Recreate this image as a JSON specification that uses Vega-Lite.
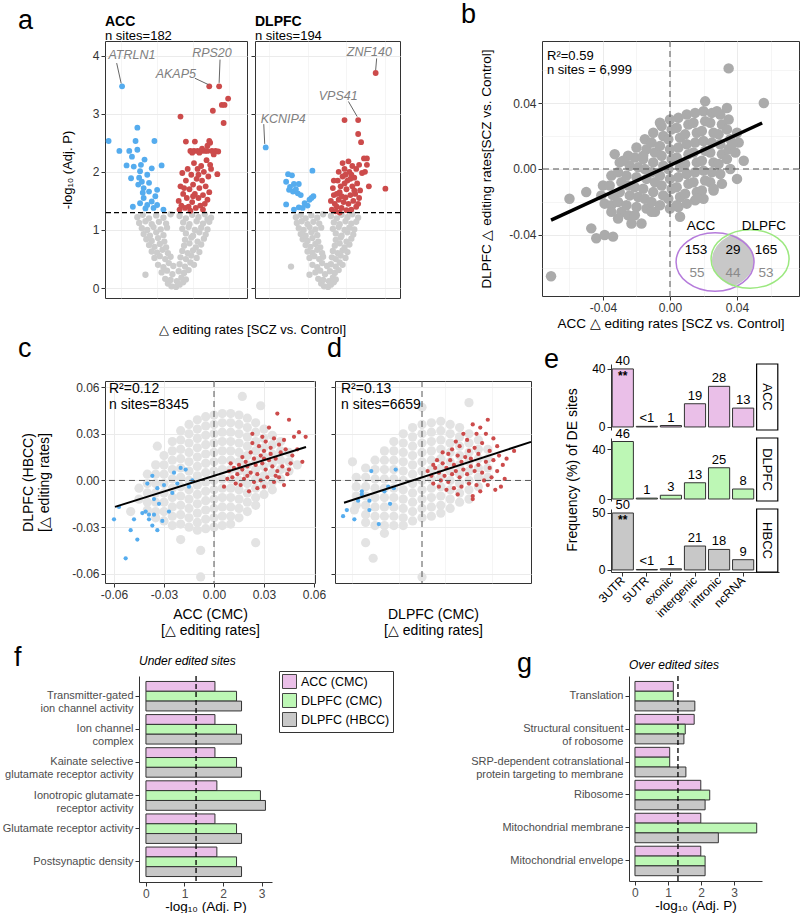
{
"$schema": "https://vega.github.io/schema/vega-lite/v6.json",
"padding": {"left": 2, "top": 0, "right": 0, "bottom": 0},
"config": {
  "font": "Liberation Sans",
  "view": {"stroke": "#333333", "strokeWidth": 1},
  "axis": {"labelFont": "Liberation Sans", "titleFont": "Liberation Sans", "labelFontSize": 12, "titleFontSize": 13, "titleFontWeight": "normal", "labelColor": "#333333", "titleColor": "#000000", "tickColor": "#333333", "domainColor": "#333333", "tickSize": 4, "gridColor": "#EBEBEB", "labelPadding": 2, "domain": false, "labelFlush": false, "labelOverlap": false},
  "title": {"font": "Liberation Sans", "fontWeight": "normal", "color": "#000000", "subtitleFont": "Liberation Sans"},
  "legend": {"labelFont": "Liberation Sans"}
},
"resolve": {"scale": {"fill": "independent"}, "legend": {"fill": "independent"}},
"spacing": 5,
"vconcat": [
 {"vconcat": [
  {"hconcat": [
   {"hconcat": [
    {"width": 142, "height": 257,
     "title": {"text": "ACC", "subtitle": "n sites=182", "anchor": "start", "frame": "group", "fontSize": 14, "fontWeight": "bold", "subtitleFontSize": 13, "subtitleColor": "#000000", "subtitlePadding": 1, "offset": -2},
     "layer": [
      {"data": {"name": "volA"}, "transform": [{"filter": "datum.c=='g'"}], "mark": {"type": "circle", "size": 40, "color": "#CCCCCC", "opacity": 1},
       "encoding": {
        "x": {"field": "x", "type": "quantitative", "scale": {"domain": [-0.078, 0.08], "nice": false, "zero": false}, "axis": {"values": [-0.06,-0.04,-0.02,0,0.02,0.04,0.06], "labelExpr": "abs(round(datum.value*100))%4==2 ? '' : replace(format(datum.value,'.2f'),'\u2212','-')", "tickColor": {"condition": {"test": "abs(round(datum.value*100))%4==2", "value": "transparent"}, "value": "#333333"}, "gridWidth": {"condition": {"test": "abs(round(datum.value*100))%4==2", "value": 0.5}, "value": 1}, "grid": true, "title": "△ editing rates [SCZ vs. Control]", "titleX": 147, "titlePadding": 8}},
        "y": {"field": "y", "type": "quantitative", "scale": {"domain": [-0.17, 4.25], "nice": false, "zero": false}, "axis": {"values": [0,0.5,1,1.5,2,2.5,3,3.5,4], "labelExpr": "datum.value%1!=0 ? '' : format(datum.value,'.0f')", "tickColor": {"condition": {"test": "datum.value%1!=0", "value": "transparent"}, "value": "#333333"}, "gridWidth": {"condition": {"test": "datum.value%1!=0", "value": 0.5}, "value": 1}, "grid": true, "title": "-log₁₀ (Adj. P)", "titlePadding": 18}}
       }},
      {"data": {"name": "volA"}, "transform": [{"filter": "datum.c=='b'"}], "mark": {"type": "circle", "size": 34, "opacity": 1, "color": "#55ACEE"},
       "encoding": {
        "x": {"field": "x", "type": "quantitative", "scale": {"domain": [-0.078, 0.08], "nice": false, "zero": false}},
        "y": {"field": "y", "type": "quantitative", "scale": {"domain": [-0.17, 4.25], "nice": false, "zero": false}}}},
      {"data": {"name": "volA"}, "transform": [{"filter": "datum.c=='r'"}], "mark": {"type": "circle", "size": 34, "opacity": 1, "color": "#CC4B4B"},
       "encoding": {
        "x": {"field": "x", "type": "quantitative", "scale": {"domain": [-0.078, 0.08], "nice": false, "zero": false}},
        "y": {"field": "y", "type": "quantitative", "scale": {"domain": [-0.17, 4.25], "nice": false, "zero": false}}}},
      {"data": {"values": [{}]}, "mark": {"type": "rule", "strokeDash": [5, 3], "strokeWidth": 1.2, "color": "#000000"},
       "encoding": {"y": {"datum": 1.3, "type": "quantitative", "scale": {"domain": [-0.17, 4.25], "nice": false, "zero": false}}}},
      {"data": {"name": "lblA"}, "mark": {"type": "rule", "color": "#666666", "strokeWidth": 1},
       "encoding": {
        "x": {"field": "x1", "type": "quantitative", "scale": {"domain": [-0.078, 0.08], "nice": false, "zero": false}},
        "y": {"field": "y1", "type": "quantitative", "scale": {"domain": [-0.17, 4.25], "nice": false, "zero": false}},
        "x2": {"field": "x2"}, "y2": {"field": "y2"}}},
      {"data": {"name": "lblA"}, "mark": {"type": "text", "fontStyle": "italic", "fontSize": 12.5, "color": "#808080"},
       "encoding": {
        "x": {"field": "tx", "type": "quantitative", "scale": {"domain": [-0.078, 0.08], "nice": false, "zero": false}},
        "y": {"field": "ty", "type": "quantitative", "scale": {"domain": [-0.17, 4.25], "nice": false, "zero": false}},
        "text": {"field": "t"}}}
     ]},
    {"width": 145, "height": 257,
     "title": {"text": "DLPFC", "subtitle": "n sites=194", "anchor": "start", "frame": "group", "fontSize": 14, "fontWeight": "bold", "subtitleFontSize": 13, "subtitleColor": "#000000", "subtitlePadding": 1, "offset": -2},
     "layer": [
      {"data": {"name": "volD"}, "transform": [{"filter": "datum.c=='g'"}], "mark": {"type": "circle", "size": 40, "color": "#CCCCCC", "opacity": 1},
       "encoding": {
        "x": {"field": "x", "type": "quantitative", "scale": {"domain": [-0.074, 0.075], "nice": false, "zero": false}, "axis": {"values": [-0.06,-0.04,-0.02,0,0.02,0.04,0.06], "labelExpr": "abs(round(datum.value*100))%4==2 ? '' : replace(format(datum.value,'.2f'),'\u2212','-')", "tickColor": {"condition": {"test": "abs(round(datum.value*100))%4==2", "value": "transparent"}, "value": "#333333"}, "gridWidth": {"condition": {"test": "abs(round(datum.value*100))%4==2", "value": 0.5}, "value": 1}, "grid": true, "title": null}},
        "y": {"field": "y", "type": "quantitative", "scale": {"domain": [-0.17, 4.25], "nice": false, "zero": false}, "axis": {"values": [0,0.5,1,1.5,2,2.5,3,3.5,4], "labels": false, "tickColor": {"condition": {"test": "datum.value%1!=0", "value": "transparent"}, "value": "#333333"}, "gridWidth": {"condition": {"test": "datum.value%1!=0", "value": 0.5}, "value": 1}, "grid": true, "title": null}}
       }},
      {"data": {"name": "volD"}, "transform": [{"filter": "datum.c=='b'"}], "mark": {"type": "circle", "size": 34, "opacity": 1, "color": "#55ACEE"},
       "encoding": {
        "x": {"field": "x", "type": "quantitative", "scale": {"domain": [-0.074, 0.075], "nice": false, "zero": false}},
        "y": {"field": "y", "type": "quantitative", "scale": {"domain": [-0.17, 4.25], "nice": false, "zero": false}}}},
      {"data": {"name": "volD"}, "transform": [{"filter": "datum.c=='r'"}], "mark": {"type": "circle", "size": 34, "opacity": 1, "color": "#CC4B4B"},
       "encoding": {
        "x": {"field": "x", "type": "quantitative", "scale": {"domain": [-0.074, 0.075], "nice": false, "zero": false}},
        "y": {"field": "y", "type": "quantitative", "scale": {"domain": [-0.17, 4.25], "nice": false, "zero": false}}}},
      {"data": {"values": [{}]}, "mark": {"type": "rule", "strokeDash": [5, 3], "strokeWidth": 1.2, "color": "#000000"},
       "encoding": {"y": {"datum": 1.3, "type": "quantitative", "scale": {"domain": [-0.17, 4.25], "nice": false, "zero": false}}}},
      {"data": {"name": "lblD"}, "mark": {"type": "rule", "color": "#666666", "strokeWidth": 1},
       "encoding": {
        "x": {"field": "x1", "type": "quantitative", "scale": {"domain": [-0.074, 0.075], "nice": false, "zero": false}},
        "y": {"field": "y1", "type": "quantitative", "scale": {"domain": [-0.17, 4.25], "nice": false, "zero": false}},
        "x2": {"field": "x2"}, "y2": {"field": "y2"}}},
      {"data": {"name": "lblD"}, "mark": {"type": "text", "fontStyle": "italic", "fontSize": 12.5, "color": "#808080"},
       "encoding": {
        "x": {"field": "tx", "type": "quantitative", "scale": {"domain": [-0.074, 0.075], "nice": false, "zero": false}},
        "y": {"field": "ty", "type": "quantitative", "scale": {"domain": [-0.17, 4.25], "nice": false, "zero": false}},
        "text": {"field": "t"}}}
     ]}
   ], "spacing": 8, "bounds": "flush",
   "title": {"text": "a", "fontSize": 27, "anchor": "start", "frame": "group", "dx": -87, "offset": -41, "baseline": "alphabetic"}},
   {"width": 257, "height": 255,
    "title": {"text": "b", "fontSize": 27, "anchor": "start", "frame": "group", "dx": -81, "offset": -9, "baseline": "alphabetic"},
    "layer": [
     {"data": {"name": "bg"}, "mark": {"type": "circle", "size": 110, "color": "#ABABAB", "opacity": 1},
      "encoding": {
       "x": {"field": "x", "type": "quantitative", "scale": {"domain": [-0.0764, 0.077], "nice": false, "zero": false}, "axis": {"values": [-0.06,-0.04,-0.02,0,0.02,0.04,0.06], "labelExpr": "abs(round(datum.value*100))%4==2 ? '' : replace(format(datum.value,'.2f'),'\u2212','-')", "tickColor": {"condition": {"test": "abs(round(datum.value*100))%4==2", "value": "transparent"}, "value": "#333333"}, "gridWidth": {"condition": {"test": "abs(round(datum.value*100))%4==2", "value": 0.5}, "value": 1}, "grid": true, "title": "ACC △ editing rates [SCZ vs. Control]", "titleFontSize": 13.5, "titlePadding": 3}},
       "y": {"field": "y", "type": "quantitative", "scale": {"domain": [-0.077, 0.0776], "nice": false, "zero": false}, "axis": {"values": [-0.06,-0.04,-0.02,0,0.02,0.04,0.06], "labelExpr": "abs(round(datum.value*100))%4==2 ? '' : replace(format(datum.value,'.2f'),'\u2212','-')", "tickColor": {"condition": {"test": "abs(round(datum.value*100))%4==2", "value": "transparent"}, "value": "#333333"}, "gridWidth": {"condition": {"test": "abs(round(datum.value*100))%4==2", "value": 0.5}, "value": 1}, "grid": true, "title": "DLPFC △ editing rates[SCZ vs. Control]", "titleFontSize": 13.5, "titlePadding": 15}}
      }},
     {"data": {"values": [{}]}, "mark": {"type": "rule", "strokeDash": [6, 4], "strokeWidth": 1, "color": "#555555"},
      "encoding": {"x": {"datum": 0, "type": "quantitative", "scale": {"domain": [-0.0764, 0.077], "nice": false, "zero": false}}}},
     {"data": {"values": [{}]}, "mark": {"type": "rule", "strokeDash": [6, 4], "strokeWidth": 1, "color": "#555555"},
      "encoding": {"y": {"datum": 0, "type": "quantitative", "scale": {"domain": [-0.077, 0.0776], "nice": false, "zero": false}}}},
     {"data": {"name": "bl"}, "mark": {"type": "line", "color": "#000000", "strokeWidth": 3.5},
      "encoding": {
       "x": {"field": "x", "type": "quantitative", "scale": {"domain": [-0.0764, 0.077], "nice": false, "zero": false}},
       "y": {"field": "y", "type": "quantitative", "scale": {"domain": [-0.077, 0.0776], "nice": false, "zero": false}}}},
     {"data": {"name": "bann"}, "mark": {"type": "text", "align": "left", "baseline": "middle", "fontSize": 13},
      "encoding": {
       "x": {"field": "x", "type": "quantitative", "scale": {"domain": [-0.0764, 0.077], "nice": false, "zero": false}},
       "y": {"field": "y", "type": "quantitative", "scale": {"domain": [-0.077, 0.0776], "nice": false, "zero": false}},
       "text": {"field": "t"}}},
     {"data": {"name": "lens"}, "mark": {"type": "point", "shape": "M0,-1A1.5,1.115 0 0,1 0,1A1.5,1.135 0 0,1 0,-1Z", "size": 2704, "filled": true, "fill": "#C8C8C8", "strokeWidth": 0, "opacity": 1},
      "encoding": {
       "x": {"field": "x", "type": "quantitative", "scale": {"domain": [-0.0764, 0.077], "nice": false, "zero": false}},
       "y": {"field": "y", "type": "quantitative", "scale": {"domain": [-0.077, 0.0776], "nice": false, "zero": false}}}},
     {"data": {"name": "venn"}, "transform": [{"filter": "datum.s=='ACC'"}], "mark": {"type": "point", "shape": "M-1,0A1,0.75 0 1,0 1,0A1,0.75 0 1,0 -1,0Z", "size": 6084, "filled": false, "strokeWidth": 1.5, "opacity": 1, "stroke": "#B57BDB"},
      "encoding": {
       "x": {"field": "x", "type": "quantitative", "scale": {"domain": [-0.0764, 0.077], "nice": false, "zero": false}},
       "y": {"field": "y", "type": "quantitative", "scale": {"domain": [-0.077, 0.0776], "nice": false, "zero": false}}}},
     {"data": {"name": "venn"}, "transform": [{"filter": "datum.s=='DLPFC'"}], "mark": {"type": "point", "shape": "M-1,0A1,0.75 0 1,0 1,0A1,0.75 0 1,0 -1,0Z", "size": 6084, "filled": false, "strokeWidth": 1.5, "opacity": 1, "stroke": "#9BE87F"},
      "encoding": {
       "x": {"field": "x", "type": "quantitative", "scale": {"domain": [-0.0764, 0.077], "nice": false, "zero": false}},
       "y": {"field": "y", "type": "quantitative", "scale": {"domain": [-0.077, 0.0776], "nice": false, "zero": false}}}},
     {"data": {"name": "vtxt"}, "transform": [{"filter": "datum.k!='m'"}], "mark": {"type": "text", "fontSize": 13.5, "baseline": "middle", "color": "#000000"},
      "encoding": {
       "x": {"field": "x", "type": "quantitative", "scale": {"domain": [-0.0764, 0.077], "nice": false, "zero": false}},
       "y": {"field": "y", "type": "quantitative", "scale": {"domain": [-0.077, 0.0776], "nice": false, "zero": false}},
       "text": {"field": "t"}}},
     {"data": {"name": "vtxt"}, "transform": [{"filter": "datum.k=='m'"}], "mark": {"type": "text", "fontSize": 13.5, "baseline": "middle", "color": "#8A8A8A"},
      "encoding": {
       "x": {"field": "x", "type": "quantitative", "scale": {"domain": [-0.0764, 0.077], "nice": false, "zero": false}},
       "y": {"field": "y", "type": "quantitative", "scale": {"domain": [-0.077, 0.0776], "nice": false, "zero": false}},
       "text": {"field": "t"}}}
    ]}
  ], "spacing": 58},
  {"hconcat": [
   {"vconcat": [
    {"width": 1, "height": 1, "view": {"stroke": null}, "data": {"values": [{}]}, "mark": {"type": "point", "opacity": 0, "size": 0}},
    {"hconcat": [
    {"width": 210, "height": 202,
     "title": {"text": "c", "fontSize": 27, "anchor": "start", "frame": "group", "dx": -87, "offset": -3, "baseline": "alphabetic"},
     "layer": [
      {"data": {"name": "cg"}, "mark": {"type": "circle", "size": 85, "color": "#E3E3E3", "opacity": 1},
       "encoding": {
        "x": {"field": "x", "type": "quantitative", "scale": {"domain": [-0.0654, 0.0606], "nice": false, "zero": false}, "axis": {"values": [-0.06,-0.045,-0.03,-0.015,0,0.015,0.03,0.045,0.06], "labelExpr": "abs(round(datum.value*1000))%30==15 ? '' : replace(format(datum.value,'.2f'),'\u2212','-')", "tickColor": {"condition": {"test": "abs(round(datum.value*1000))%30==15", "value": "transparent"}, "value": "#333333"}, "gridWidth": {"condition": {"test": "abs(round(datum.value*1000))%30==15", "value": 0.5}, "value": 1}, "grid": true, "title": ["ACC (CMC)", "[△ editing rates]"], "titleFontSize": 14, "titlePadding": 7}},
        "y": {"field": "y", "type": "quantitative", "scale": {"domain": [-0.0659, 0.0639], "nice": false, "zero": false}, "axis": {"values": [-0.06,-0.045,-0.03,-0.015,0,0.015,0.03,0.045,0.06], "labelExpr": "abs(round(datum.value*1000))%30==15 ? '' : replace(format(datum.value,'.2f'),'\u2212','-')", "tickColor": {"condition": {"test": "abs(round(datum.value*1000))%30==15", "value": "transparent"}, "value": "#333333"}, "gridWidth": {"condition": {"test": "abs(round(datum.value*1000))%30==15", "value": 0.5}, "value": 1}, "grid": true, "title": ["DLPFC (HBCC)", "[△ editing rates]"], "titleFontSize": 14, "titlePadding": 20}}
       }},
      {"data": {"name": "cp"}, "transform": [{"filter": "datum.c=='b'"}], "mark": {"type": "circle", "size": 18, "opacity": 1, "color": "#55ACEE"},
       "encoding": {
        "x": {"field": "x", "type": "quantitative", "scale": {"domain": [-0.0654, 0.0606], "nice": false, "zero": false}},
        "y": {"field": "y", "type": "quantitative", "scale": {"domain": [-0.0659, 0.0639], "nice": false, "zero": false}}}},
      {"data": {"name": "cp"}, "transform": [{"filter": "datum.c=='r'"}], "mark": {"type": "circle", "size": 18, "opacity": 1, "color": "#CC4B4B"},
       "encoding": {
        "x": {"field": "x", "type": "quantitative", "scale": {"domain": [-0.0654, 0.0606], "nice": false, "zero": false}},
        "y": {"field": "y", "type": "quantitative", "scale": {"domain": [-0.0659, 0.0639], "nice": false, "zero": false}}}},
      {"data": {"values": [{}]}, "mark": {"type": "rule", "strokeDash": [6, 4], "strokeWidth": 1, "color": "#555555"},
       "encoding": {"x": {"datum": 0, "type": "quantitative", "scale": {"domain": [-0.0654, 0.0606], "nice": false, "zero": false}}}},
      {"data": {"values": [{}]}, "mark": {"type": "rule", "strokeDash": [6, 4], "strokeWidth": 1, "color": "#555555"},
       "encoding": {"y": {"datum": 0, "type": "quantitative", "scale": {"domain": [-0.0659, 0.0639], "nice": false, "zero": false}}}},
      {"data": {"name": "cl"}, "mark": {"type": "line", "color": "#000000", "strokeWidth": 2},
       "encoding": {
        "x": {"field": "x", "type": "quantitative", "scale": {"domain": [-0.0654, 0.0606], "nice": false, "zero": false}},
        "y": {"field": "y", "type": "quantitative", "scale": {"domain": [-0.0659, 0.0639], "nice": false, "zero": false}}}},
      {"data": {"name": "cann"}, "mark": {"type": "text", "align": "left", "baseline": "middle", "fontSize": 14},
       "encoding": {
        "x": {"field": "x", "type": "quantitative", "scale": {"domain": [-0.0654, 0.0606], "nice": false, "zero": false}},
        "y": {"field": "y", "type": "quantitative", "scale": {"domain": [-0.0659, 0.0639], "nice": false, "zero": false}},
        "text": {"field": "t"}}}
     ]},
    {"width": 196, "height": 202,
     "title": {"text": "d", "fontSize": 27, "anchor": "start", "frame": "group", "dx": -8, "offset": -3, "baseline": "alphabetic"},
     "layer": [
      {"data": {"name": "dg"}, "mark": {"type": "circle", "size": 85, "color": "#E3E3E3", "opacity": 1},
       "encoding": {
        "x": {"field": "x", "type": "quantitative", "scale": {"domain": [-0.0463, 0.058], "nice": false, "zero": false}, "axis": {"values": [-0.0375,-0.025,-0.0125,0,0.0125,0.025,0.0375,0.05], "labelExpr": "abs(round(datum.value*10000))%250==125 ? '' : (abs(datum.value-0.05)<0.0001 ? '0.05' : replace(format(datum.value,'.3f'),'\u2212','-'))", "tickColor": {"condition": {"test": "abs(round(datum.value*10000))%250==125", "value": "transparent"}, "value": "#333333"}, "gridWidth": {"condition": {"test": "abs(round(datum.value*10000))%250==125", "value": 0.5}, "value": 1}, "grid": true, "title": ["DLPFC (CMC)", "[△ editing rates]"], "titleFontSize": 14, "titlePadding": 7}},
        "y": {"field": "y", "type": "quantitative", "scale": {"domain": [-0.0659, 0.0639], "nice": false, "zero": false}, "axis": {"values": [-0.06,-0.045,-0.03,-0.015,0,0.015,0.03,0.045,0.06], "labels": false, "tickColor": {"condition": {"test": "abs(round(datum.value*1000))%30==15", "value": "transparent"}, "value": "#333333"}, "gridWidth": {"condition": {"test": "abs(round(datum.value*1000))%30==15", "value": 0.5}, "value": 1}, "grid": true, "title": null}}
       }},
      {"data": {"name": "dp"}, "transform": [{"filter": "datum.c=='b'"}], "mark": {"type": "circle", "size": 18, "opacity": 1, "color": "#55ACEE"},
       "encoding": {
        "x": {"field": "x", "type": "quantitative", "scale": {"domain": [-0.0463, 0.058], "nice": false, "zero": false}},
        "y": {"field": "y", "type": "quantitative", "scale": {"domain": [-0.0659, 0.0639], "nice": false, "zero": false}}}},
      {"data": {"name": "dp"}, "transform": [{"filter": "datum.c=='r'"}], "mark": {"type": "circle", "size": 18, "opacity": 1, "color": "#CC4B4B"},
       "encoding": {
        "x": {"field": "x", "type": "quantitative", "scale": {"domain": [-0.0463, 0.058], "nice": false, "zero": false}},
        "y": {"field": "y", "type": "quantitative", "scale": {"domain": [-0.0659, 0.0639], "nice": false, "zero": false}}}},
      {"data": {"values": [{}]}, "mark": {"type": "rule", "strokeDash": [6, 4], "strokeWidth": 1, "color": "#555555"},
       "encoding": {"x": {"datum": 0, "type": "quantitative", "scale": {"domain": [-0.0463, 0.058], "nice": false, "zero": false}}}},
      {"data": {"values": [{}]}, "mark": {"type": "rule", "strokeDash": [6, 4], "strokeWidth": 1, "color": "#555555"},
       "encoding": {"y": {"datum": 0, "type": "quantitative", "scale": {"domain": [-0.0659, 0.0639], "nice": false, "zero": false}}}},
      {"data": {"name": "dl"}, "mark": {"type": "line", "color": "#000000", "strokeWidth": 2},
       "encoding": {
        "x": {"field": "x", "type": "quantitative", "scale": {"domain": [-0.0463, 0.058], "nice": false, "zero": false}},
        "y": {"field": "y", "type": "quantitative", "scale": {"domain": [-0.0659, 0.0639], "nice": false, "zero": false}}}},
      {"data": {"name": "dann"}, "mark": {"type": "text", "align": "left", "baseline": "middle", "fontSize": 14},
       "encoding": {
        "x": {"field": "x", "type": "quantitative", "scale": {"domain": [-0.0463, 0.058], "nice": false, "zero": false}},
        "y": {"field": "y", "type": "quantitative", "scale": {"domain": [-0.0659, 0.0639], "nice": false, "zero": false}},
        "text": {"field": "t"}}}
     ]}
    ], "spacing": -1}
   ], "spacing": -31},
   {"vconcat": [
    {"width": 168, "height": 66, "view": {"stroke": null},
     "layer": [
      {"data": {"name": "efreq"}, "transform": [{"filter": "datum.f=='ACC'"}], "mark": {"type": "bar", "fill": "#EABFE8", "stroke": "#333333", "strokeWidth": 1},
       "encoding": {
        "x": {"field": "cat", "type": "nominal", "sort": null, "scale": {"domain": ["3UTR","5UTR","exonic","intergenic","intronic","ncRNA","strip"], "paddingInner": 0.12, "paddingOuter": 0.05}, "axis": null},
        "y": {"field": "v", "type": "quantitative", "scale": {"domain": [-2.1, 43.4], "nice": false, "zero": false}, "axis": {"values": [0,10,20,30,40], "title": null, "domain": true, "grid": false, "labelColor": "#000000"}},
        "y2": {"datum": 0}}},
      {"data": {"name": "efreq"}, "transform": [{"filter": "datum.f=='ACC'"}], "mark": {"type": "text", "baseline": "bottom", "dy": -1, "fontSize": 13},
       "encoding": {
        "x": {"field": "cat", "type": "nominal", "sort": null, "scale": {"domain": ["3UTR","5UTR","exonic","intergenic","intronic","ncRNA","strip"], "paddingInner": 0.12, "paddingOuter": 0.05}, "axis": null},
        "y": {"field": "v", "type": "quantitative", "scale": {"domain": [-2.1, 43.4], "nice": false, "zero": false}},
        "text": {"field": "lab"}}},
      {"data": {"name": "efreq"}, "transform": [{"filter": "datum.f=='ACC' && datum.star"}], "mark": {"type": "text", "baseline": "top", "dy": 2, "fontSize": 12, "fontWeight": "bold"},
       "encoding": {
        "x": {"field": "cat", "type": "nominal", "sort": null, "scale": {"domain": ["3UTR","5UTR","exonic","intergenic","intronic","ncRNA","strip"], "paddingInner": 0.12, "paddingOuter": 0.05}, "axis": null},
        "y": {"field": "v", "type": "quantitative", "scale": {"domain": [-2.1, 43.4], "nice": false, "zero": false}},
        "text": {"value": "**"}}},
      {"data": {"values": [{"cat": "strip", "lab": "ACC"}]}, "mark": {"type": "rect", "fill": "#FFFFFF", "stroke": "#000000", "strokeWidth": 1.2},
       "encoding": {
        "x": {"field": "cat", "type": "nominal", "sort": null, "scale": {"domain": ["3UTR","5UTR","exonic","intergenic","intronic","ncRNA","strip"], "paddingInner": 0.12, "paddingOuter": 0.05}, "axis": null},
        "y": {"datum": 43.4, "type": "quantitative", "scale": {"domain": [-2.1, 43.4], "nice": false, "zero": false}},
        "y2": {"datum": -2.1}}},
      {"data": {"values": [{"cat": "strip", "lab": "ACC"}]}, "mark": {"type": "text", "angle": 90, "fontSize": 13, "baseline": "middle"},
       "encoding": {
        "x": {"field": "cat", "type": "nominal", "sort": null, "scale": {"domain": ["3UTR","5UTR","exonic","intergenic","intronic","ncRNA","strip"], "paddingInner": 0.12, "paddingOuter": 0.05}, "axis": null},
        "y": {"datum": 20.65, "type": "quantitative", "scale": {"domain": [-2.1, 43.4], "nice": false, "zero": false}},
        "text": {"field": "lab"}}}
     ]},
    {"width": 168, "height": 63, "view": {"stroke": null},
     "layer": [
      {"data": {"name": "efreq"}, "transform": [{"filter": "datum.f=='DLPFC'"}], "mark": {"type": "bar", "fill": "#BDF7B5", "stroke": "#333333", "strokeWidth": 1},
       "encoding": {
        "x": {"field": "cat", "type": "nominal", "sort": null, "scale": {"domain": ["3UTR","5UTR","exonic","intergenic","intronic","ncRNA","strip"], "paddingInner": 0.12, "paddingOuter": 0.05}, "axis": null},
        "y": {"field": "v", "type": "quantitative", "scale": {"domain": [-1.6, 48.8], "nice": false, "zero": false}, "axis": {"values": [0,10,20,30,40], "title": "Frequency (%) of DE sites", "titleFontSize": 14, "titlePadding": 12, "domain": true, "grid": false, "labelColor": "#000000"}},
        "y2": {"datum": 0}}},
      {"data": {"name": "efreq"}, "transform": [{"filter": "datum.f=='DLPFC'"}], "mark": {"type": "text", "baseline": "bottom", "dy": -1, "fontSize": 13},
       "encoding": {
        "x": {"field": "cat", "type": "nominal", "sort": null, "scale": {"domain": ["3UTR","5UTR","exonic","intergenic","intronic","ncRNA","strip"], "paddingInner": 0.12, "paddingOuter": 0.05}, "axis": null},
        "y": {"field": "v", "type": "quantitative", "scale": {"domain": [-1.6, 48.8], "nice": false, "zero": false}},
        "text": {"field": "lab"}}},
      {"data": {"values": [{"cat": "strip", "lab": "DLPFC"}]}, "mark": {"type": "rect", "fill": "#FFFFFF", "stroke": "#000000", "strokeWidth": 1.2},
       "encoding": {
        "x": {"field": "cat", "type": "nominal", "sort": null, "scale": {"domain": ["3UTR","5UTR","exonic","intergenic","intronic","ncRNA","strip"], "paddingInner": 0.12, "paddingOuter": 0.05}, "axis": null},
        "y": {"datum": 48.8, "type": "quantitative", "scale": {"domain": [-1.6, 48.8], "nice": false, "zero": false}},
        "y2": {"datum": -1.6}}},
      {"data": {"values": [{"cat": "strip", "lab": "DLPFC"}]}, "mark": {"type": "text", "angle": 90, "fontSize": 13, "baseline": "middle"},
       "encoding": {
        "x": {"field": "cat", "type": "nominal", "sort": null, "scale": {"domain": ["3UTR","5UTR","exonic","intergenic","intronic","ncRNA","strip"], "paddingInner": 0.12, "paddingOuter": 0.05}, "axis": null},
        "y": {"datum": 23.6, "type": "quantitative", "scale": {"domain": [-1.6, 48.8], "nice": false, "zero": false}},
        "text": {"field": "lab"}}}
     ]},
    {"width": 168, "height": 63, "view": {"stroke": null},
     "layer": [
      {"data": {"name": "efreq"}, "transform": [{"filter": "datum.f=='HBCC'"}], "mark": {"type": "bar", "fill": "#C8C8C8", "stroke": "#333333", "strokeWidth": 1},
       "encoding": {
        "x": {"field": "cat", "type": "nominal", "sort": null, "scale": {"domain": ["3UTR","5UTR","exonic","intergenic","intronic","ncRNA","strip"], "paddingInner": 0.12, "paddingOuter": 0.05}, "axis": {"title": null, "labelAngle": -45, "labelAlign": "right", "labelBaseline": "middle", "domain": true, "labelColor": "#000000", "labelExpr": "datum.value=='strip' ? '' : datum.value", "tickColor": {"condition": {"test": "datum.value=='strip'", "value": "transparent"}, "value": "#333333"}}},
        "y": {"field": "v", "type": "quantitative", "scale": {"domain": [-1.8, 53.5], "nice": false, "zero": false}, "axis": {"values": [0,10,20,30,40,50], "title": null, "domain": true, "grid": false, "labelColor": "#000000"}},
        "y2": {"datum": 0}}},
      {"data": {"name": "efreq"}, "transform": [{"filter": "datum.f=='HBCC'"}], "mark": {"type": "text", "baseline": "bottom", "dy": -1, "fontSize": 13},
       "encoding": {
        "x": {"field": "cat", "type": "nominal", "sort": null, "scale": {"domain": ["3UTR","5UTR","exonic","intergenic","intronic","ncRNA","strip"], "paddingInner": 0.12, "paddingOuter": 0.05}},
        "y": {"field": "v", "type": "quantitative", "scale": {"domain": [-1.8, 53.5], "nice": false, "zero": false}},
        "text": {"field": "lab"}}},
      {"data": {"name": "efreq"}, "transform": [{"filter": "datum.f=='HBCC' && datum.star"}], "mark": {"type": "text", "baseline": "top", "dy": 2, "fontSize": 12, "fontWeight": "bold"},
       "encoding": {
        "x": {"field": "cat", "type": "nominal", "sort": null, "scale": {"domain": ["3UTR","5UTR","exonic","intergenic","intronic","ncRNA","strip"], "paddingInner": 0.12, "paddingOuter": 0.05}},
        "y": {"field": "v", "type": "quantitative", "scale": {"domain": [-1.8, 53.5], "nice": false, "zero": false}},
        "text": {"value": "**"}}},
      {"data": {"values": [{"cat": "strip", "lab": "HBCC"}]}, "mark": {"type": "rect", "fill": "#FFFFFF", "stroke": "#000000", "strokeWidth": 1.2},
       "encoding": {
        "x": {"field": "cat", "type": "nominal", "sort": null, "scale": {"domain": ["3UTR","5UTR","exonic","intergenic","intronic","ncRNA","strip"], "paddingInner": 0.12, "paddingOuter": 0.05}},
        "y": {"datum": 53.5, "type": "quantitative", "scale": {"domain": [-1.8, 53.5], "nice": false, "zero": false}},
        "y2": {"datum": -1.8}}},
      {"data": {"values": [{"cat": "strip", "lab": "HBCC"}]}, "mark": {"type": "text", "angle": 90, "fontSize": 13, "baseline": "middle"},
       "encoding": {
        "x": {"field": "cat", "type": "nominal", "sort": null, "scale": {"domain": ["3UTR","5UTR","exonic","intergenic","intronic","ncRNA","strip"], "paddingInner": 0.12, "paddingOuter": 0.05}},
        "y": {"datum": 25.85, "type": "quantitative", "scale": {"domain": [-1.8, 53.5], "nice": false, "zero": false}},
        "text": {"field": "lab"}}}
     ]}
   ], "spacing": 8, "bounds": "flush",
   "title": {"text": "e", "fontSize": 27, "anchor": "start", "frame": "group", "dx": -67, "offset": -40, "baseline": "alphabetic"}}
  ], "spacing": 8}
 ], "spacing": -3},
 {"hconcat": [
  {"width": 1, "height": 1, "view": {"stroke": null}, "data": {"values": [{}]}, "mark": {"type": "point", "opacity": 0, "size": 0}},
  {"hconcat": [
  {"vconcat": [
   {"width": 133, "height": 206, "view": {"stroke": null},
    "title": {"text": "Under edited sites", "fontStyle": "italic", "fontSize": 12, "anchor": "start", "frame": "group", "offset": 3},
    "layer": [
     {"data": {"name": "fbars"}, "mark": {"type": "bar", "stroke": "#333333", "strokeWidth": 1},
      "encoding": {
       "y": {"field": "term", "type": "nominal", "sort": null, "scale": {"paddingInner": 0.11, "paddingOuter": 0.165}, "axis": {"title": null, "domain": true, "labelExpr": "split(datum.value, '|')", "labelFontSize": 11, "labelColor": "#4D4D4D", "labelLimit": 300, "labelLineHeight": 13}},
       "yOffset": {"field": "set", "type": "nominal", "sort": ["ACC (CMC)", "DLPFC (CMC)", "DLPFC (HBCC)"], "scale": {"paddingInner": 0, "paddingOuter": 0}},
       "x": {"field": "v", "type": "quantitative", "scale": {"domain": [-0.18, 3.27], "nice": false, "zero": false}, "axis": {"values": [0,1,2,3], "title": "-log₁₀ (Adj. P)", "titleFontSize": 13.5, "titlePadding": 0, "domain": true, "grid": false, "labelColor": "#4D4D4D"}},
       "x2": {"datum": 0},
       "fill": {"field": "set", "type": "nominal", "scale": {"domain": ["ACC (CMC)", "DLPFC (CMC)", "DLPFC (HBCC)"], "range": ["#EABFE8", "#BDF7B5", "#C8C8C8"]}, "legend": {"title": null, "orient": "none", "legendX": 140, "legendY": -5, "symbolType": "square", "symbolSize": 196, "symbolStrokeColor": "#444444", "symbolStrokeWidth": 1, "labelFontSize": 12.5, "rowPadding": 0, "strokeColor": "#333333", "padding": 3, "labelOffset": 4}}}},
     {"data": {"values": [{}]}, "mark": {"type": "rule", "strokeDash": [5, 3], "strokeWidth": 1.3, "color": "#000000"},
      "encoding": {"x": {"datum": 1.3, "type": "quantitative", "scale": {"domain": [-0.18, 3.27], "nice": false, "zero": false}}}}
    ]}
  ], "resolve": {"scale": {"fill": "independent"}, "legend": {"fill": "independent"}},
  "title": {"text": "f", "fontSize": 27, "anchor": "start", "frame": "group", "dx": -125, "offset": -38, "baseline": "alphabetic"}},
  {"vconcat": [
   {"width": 133, "height": 205, "view": {"stroke": null},
    "title": {"text": "Over edited sites", "fontStyle": "italic", "fontSize": 12, "anchor": "start", "frame": "group", "offset": 3},
    "layer": [
     {"data": {"name": "gbars"}, "mark": {"type": "bar", "stroke": "#333333", "strokeWidth": 1},
      "encoding": {
       "y": {"field": "term", "type": "nominal", "sort": null, "scale": {"paddingInner": 0.11, "paddingOuter": 0.165}, "axis": {"title": null, "domain": true, "labelExpr": "split(datum.value, '|')", "labelFontSize": 11, "labelColor": "#4D4D4D", "labelLimit": 300, "labelLineHeight": 13}},
       "yOffset": {"field": "set", "type": "nominal", "sort": ["ACC (CMC)", "DLPFC (CMC)", "DLPFC (HBCC)"], "scale": {"paddingInner": 0, "paddingOuter": 0}},
       "x": {"field": "v", "type": "quantitative", "scale": {"domain": [-0.18, 3.84], "nice": false, "zero": false}, "axis": {"values": [0,1,2,3], "title": "-log₁₀ (Adj. P)", "titleFontSize": 13.5, "titlePadding": 0, "domain": true, "grid": false, "labelColor": "#4D4D4D"}},
       "x2": {"datum": 0},
       "fill": {"field": "set", "type": "nominal", "scale": {"domain": ["ACC (CMC)", "DLPFC (CMC)", "DLPFC (HBCC)"], "range": ["#EABFE8", "#BDF7B5", "#C8C8C8"]}, "legend": null}}},
     {"data": {"values": [{}]}, "mark": {"type": "rule", "strokeDash": [5, 3], "strokeWidth": 1.3, "color": "#000000"},
      "encoding": {"x": {"datum": 1.3, "type": "quantitative", "scale": {"domain": [-0.18, 3.84], "nice": false, "zero": false}}}}
    ]}
  ], "resolve": {"scale": {"fill": "independent"}, "legend": {"fill": "independent"}},
  "title": {"text": "g", "fontSize": 27, "anchor": "start", "frame": "group", "dx": -112, "offset": -40, "baseline": "alphabetic"}}
  ], "spacing": 76, "resolve": {"scale": {"fill": "independent"}, "legend": {"fill": "independent"}}}
 ], "spacing": -104, "resolve": {"scale": {"fill": "independent"}, "legend": {"fill": "independent"}}}
],
"datasets": {
 "volA": [
  {"x":-0.004,"y":0.03,"c":"g"},{"x":0.001,"y":0.02,"c":"g"},{"x":0.005,"y":0.06,"c":"g"},{"x":-0.008,"y":0.08,"c":"g"},{"x":0.009,"y":0.1,"c":"g"},
  {"x":-0.011,"y":0.16,"c":"g"},{"x":-0.005,"y":0.14,"c":"g"},{"x":0.002,"y":0.12,"c":"g"},{"x":0.007,"y":0.18,"c":"g"},{"x":0.012,"y":0.15,"c":"g"},
  {"x":-0.015,"y":0.27,"c":"g"},{"x":-0.009,"y":0.3,"c":"g"},{"x":-0.003,"y":0.24,"c":"g"},{"x":0.004,"y":0.29,"c":"g"},{"x":0.010,"y":0.26,"c":"g"},{"x":0.015,"y":0.31,"c":"g"},
  {"x":-0.019,"y":0.4,"c":"g"},{"x":-0.013,"y":0.36,"c":"g"},{"x":-0.007,"y":0.43,"c":"g"},{"x":-0.002,"y":0.38,"c":"g"},{"x":0.005,"y":0.41,"c":"g"},{"x":0.011,"y":0.37,"c":"g"},{"x":0.017,"y":0.44,"c":"g"},{"x":0.021,"y":0.4,"c":"g"},
  {"x":-0.023,"y":0.52,"c":"g"},{"x":-0.017,"y":0.55,"c":"g"},{"x":-0.011,"y":0.5,"c":"g"},{"x":-0.005,"y":0.54,"c":"g"},{"x":0.006,"y":0.53,"c":"g"},{"x":0.012,"y":0.5,"c":"g"},{"x":0.018,"y":0.56,"c":"g"},{"x":0.024,"y":0.52,"c":"g"},
  {"x":-0.026,"y":0.63,"c":"g"},{"x":-0.02,"y":0.61,"c":"g"},{"x":-0.014,"y":0.66,"c":"g"},{"x":-0.008,"y":0.6,"c":"g"},{"x":0.008,"y":0.64,"c":"g"},{"x":0.014,"y":0.6,"c":"g"},{"x":0.02,"y":0.65,"c":"g"},{"x":0.027,"y":0.62,"c":"g"},
  {"x":-0.029,"y":0.74,"c":"g"},{"x":-0.023,"y":0.71,"c":"g"},{"x":-0.017,"y":0.76,"c":"g"},{"x":-0.01,"y":0.7,"c":"g"},{"x":0.01,"y":0.73,"c":"g"},{"x":0.016,"y":0.77,"c":"g"},{"x":0.023,"y":0.7,"c":"g"},{"x":0.029,"y":0.75,"c":"g"},
  {"x":-0.032,"y":0.84,"c":"g"},{"x":-0.026,"y":0.81,"c":"g"},{"x":-0.019,"y":0.86,"c":"g"},{"x":-0.012,"y":0.8,"c":"g"},{"x":0.011,"y":0.83,"c":"g"},{"x":0.018,"y":0.87,"c":"g"},{"x":0.025,"y":0.8,"c":"g"},{"x":0.032,"y":0.85,"c":"g"},
  {"x":-0.035,"y":0.93,"c":"g"},{"x":-0.028,"y":0.9,"c":"g"},{"x":-0.021,"y":0.96,"c":"g"},{"x":-0.013,"y":0.91,"c":"g"},{"x":0.012,"y":0.94,"c":"g"},{"x":0.02,"y":0.9,"c":"g"},{"x":0.027,"y":0.96,"c":"g"},{"x":0.034,"y":0.92,"c":"g"},
  {"x":-0.037,"y":1.03,"c":"g"},{"x":-0.031,"y":1.0,"c":"g"},{"x":-0.024,"y":1.05,"c":"g"},{"x":-0.016,"y":1.01,"c":"g"},{"x":-0.009,"y":1.04,"c":"g"},{"x":0.008,"y":1.02,"c":"g"},{"x":0.015,"y":1.05,"c":"g"},{"x":0.022,"y":1.0,"c":"g"},{"x":0.029,"y":1.04,"c":"g"},{"x":0.036,"y":1.01,"c":"g"},
  {"x":-0.04,"y":1.12,"c":"g"},{"x":-0.033,"y":1.15,"c":"g"},{"x":-0.026,"y":1.1,"c":"g"},{"x":-0.018,"y":1.14,"c":"g"},{"x":-0.01,"y":1.11,"c":"g"},{"x":0.009,"y":1.13,"c":"g"},{"x":0.016,"y":1.1,"c":"g"},{"x":0.024,"y":1.15,"c":"g"},{"x":0.031,"y":1.11,"c":"g"},{"x":0.038,"y":1.14,"c":"g"},
  {"x":-0.042,"y":1.22,"c":"g"},{"x":-0.036,"y":1.26,"c":"g"},{"x":-0.029,"y":1.2,"c":"g"},{"x":-0.021,"y":1.25,"c":"g"},{"x":-0.013,"y":1.21,"c":"g"},{"x":-0.005,"y":1.27,"c":"g"},{"x":0.005,"y":1.24,"c":"g"},{"x":0.012,"y":1.2,"c":"g"},{"x":0.019,"y":1.26,"c":"g"},{"x":0.026,"y":1.22,"c":"g"},{"x":0.033,"y":1.27,"c":"g"},{"x":0.04,"y":1.21,"c":"g"},{"x":0.036,"y":1.18,"c":"g"},
  {"x":-0.033,"y":0.23,"c":"g"},
  {"x":-0.059,"y":3.47,"c":"b"},{"x":-0.074,"y":2.53,"c":"b"},{"x":-0.062,"y":2.36,"c":"b"},{"x":-0.042,"y":2.76,"c":"b"},{"x":-0.044,"y":2.53,"c":"b"},{"x":-0.023,"y":2.53,"c":"b"},{"x":-0.051,"y":2.36,"c":"b"},{"x":-0.042,"y":2.38,"c":"b"},{"x":-0.048,"y":2.26,"c":"b"},{"x":-0.054,"y":2.11,"c":"b"},{"x":-0.046,"y":2.09,"c":"b"},{"x":-0.034,"y":2.21,"c":"b"},{"x":-0.049,"y":1.89,"c":"b"},{"x":-0.015,"y":2.11,"c":"b"},{"x":-0.039,"y":2.01,"c":"b"},{"x":-0.037,"y":1.83,"c":"b"},{"x":-0.031,"y":1.95,"c":"b"},{"x":-0.026,"y":2.06,"c":"b"},{"x":-0.035,"y":1.72,"c":"b"},{"x":-0.029,"y":1.66,"c":"b"},{"x":-0.020,"y":1.69,"c":"b"},{"x":-0.047,"y":1.40,"c":"b"},{"x":-0.039,"y":1.46,"c":"b"},{"x":-0.031,"y":1.43,"c":"b"},{"x":-0.026,"y":1.49,"c":"b"},{"x":-0.022,"y":1.58,"c":"b"},{"x":-0.013,"y":1.35,"c":"b"},{"x":-0.020,"y":1.43,"c":"b"},{"x":-0.035,"y":1.55,"c":"b"},{"x":-0.029,"y":1.81,"c":"b"},{"x":-0.041,"y":1.78,"c":"b"},{"x":-0.024,"y":1.38,"c":"b"},{"x":-0.036,"y":1.64,"c":"b"},{"x":-0.033,"y":1.37,"c":"b"},{"x":-0.040,"y":1.90,"c":"b"},{"x":-0.038,"y":2.12,"c":"b"},
  {"x":0.038,"y":3.47,"c":"r"},{"x":0.049,"y":3.47,"c":"r"},{"x":0.059,"y":3.26,"c":"r"},{"x":0.052,"y":3.15,"c":"r"},{"x":0.055,"y":3.15,"c":"r"},{"x":0.042,"y":3.05,"c":"r"},{"x":0.054,"y":2.84,"c":"r"},{"x":0.006,"y":2.95,"c":"r"},{"x":0.038,"y":2.53,"c":"r"},{"x":0.039,"y":2.50,"c":"r"},{"x":0.012,"y":2.52,"c":"r"},{"x":0.022,"y":2.52,"c":"r"},{"x":0.048,"y":2.35,"c":"r"},{"x":0.047,"y":1.96,"c":"r"},{"x":0.039,"y":2.12,"c":"r"},
  {"x":0.017,"y":2.36,"c":"r"},{"x":0.021,"y":2.36,"c":"r"},{"x":0.025,"y":2.36,"c":"r"},{"x":0.029,"y":2.36,"c":"r"},{"x":0.033,"y":2.36,"c":"r"},{"x":0.036,"y":2.36,"c":"r"},{"x":0.041,"y":2.36,"c":"r"},{"x":0.045,"y":2.36,"c":"r"},{"x":0.019,"y":2.33,"c":"r"},{"x":0.027,"y":2.33,"c":"r"},
  {"x":0.005,"y":1.35,"c":"r"},{"x":0.004,"y":1.50,"c":"r"},{"x":0.007,"y":1.42,"c":"r"},{"x":0.009,"y":1.62,"c":"r"},{"x":0.011,"y":1.38,"c":"r"},{"x":0.006,"y":1.75,"c":"r"},{"x":0.008,"y":1.98,"c":"r"},{"x":0.012,"y":1.85,"c":"r"},{"x":0.013,"y":1.55,"c":"r"},{"x":0.015,"y":1.40,"c":"r"},{"x":0.016,"y":1.70,"c":"r"},{"x":0.014,"y":2.05,"c":"r"},{"x":0.018,"y":1.95,"c":"r"},{"x":0.019,"y":1.48,"c":"r"},{"x":0.020,"y":1.78,"c":"r"},{"x":0.021,"y":2.15,"c":"r"},{"x":0.022,"y":1.62,"c":"r"},{"x":0.023,"y":1.38,"c":"r"},{"x":0.024,"y":1.88,"c":"r"},{"x":0.025,"y":2.05,"c":"r"},{"x":0.026,"y":1.55,"c":"r"},{"x":0.027,"y":1.72,"c":"r"},{"x":0.028,"y":1.42,"c":"r"},{"x":0.029,"y":2.10,"c":"r"},{"x":0.030,"y":1.85,"c":"r"},{"x":0.031,"y":1.60,"c":"r"},{"x":0.032,"y":2.0,"c":"r"},{"x":0.033,"y":1.45,"c":"r"},{"x":0.034,"y":1.75,"c":"r"},{"x":0.035,"y":2.2,"c":"r"},{"x":0.036,"y":1.52,"c":"r"},{"x":0.037,"y":1.92,"c":"r"},{"x":0.038,"y":1.65,"c":"r"},{"x":0.040,"y":2.05,"c":"r"},{"x":0.010,"y":1.72,"c":"r"},{"x":0.017,"y":1.33,"c":"r"},{"x":0.02,"y":1.58,"c":"r"},{"x":0.026,"y":1.95,"c":"r"},{"x":0.031,"y":1.35,"c":"r"},{"x":0.036,"y":2.45,"c":"r"},{"x":0.043,"y":2.3,"c":"r"},{"x":0.03,"y":2.4,"c":"r"}
 ],
 "volD": [
  {"x":-0.003,"y":0.03,"c":"g"},{"x":0.001,"y":0.02,"c":"g"},{"x":0.004,"y":0.06,"c":"g"},{"x":-0.006,"y":0.08,"c":"g"},{"x":0.007,"y":0.1,"c":"g"},
  {"x":-0.009,"y":0.16,"c":"g"},{"x":-0.004,"y":0.14,"c":"g"},{"x":0.002,"y":0.12,"c":"g"},{"x":0.006,"y":0.18,"c":"g"},{"x":0.009,"y":0.15,"c":"g"},
  {"x":-0.012,"y":0.27,"c":"g"},{"x":-0.007,"y":0.3,"c":"g"},{"x":-0.002,"y":0.24,"c":"g"},{"x":0.003,"y":0.29,"c":"g"},{"x":0.008,"y":0.26,"c":"g"},{"x":0.012,"y":0.31,"c":"g"},
  {"x":-0.015,"y":0.4,"c":"g"},{"x":-0.01,"y":0.36,"c":"g"},{"x":-0.005,"y":0.43,"c":"g"},{"x":0.0,"y":0.38,"c":"g"},{"x":0.004,"y":0.41,"c":"g"},{"x":0.009,"y":0.37,"c":"g"},{"x":0.013,"y":0.44,"c":"g"},{"x":0.016,"y":0.4,"c":"g"},
  {"x":-0.018,"y":0.52,"c":"g"},{"x":-0.013,"y":0.55,"c":"g"},{"x":-0.008,"y":0.5,"c":"g"},{"x":-0.004,"y":0.54,"c":"g"},{"x":0.005,"y":0.53,"c":"g"},{"x":0.009,"y":0.5,"c":"g"},{"x":0.014,"y":0.56,"c":"g"},{"x":0.019,"y":0.52,"c":"g"},
  {"x":-0.02,"y":0.63,"c":"g"},{"x":-0.015,"y":0.61,"c":"g"},{"x":-0.01,"y":0.66,"c":"g"},{"x":-0.005,"y":0.6,"c":"g"},{"x":0.006,"y":0.64,"c":"g"},{"x":0.011,"y":0.6,"c":"g"},{"x":0.016,"y":0.65,"c":"g"},{"x":0.021,"y":0.62,"c":"g"},
  {"x":-0.022,"y":0.74,"c":"g"},{"x":-0.017,"y":0.71,"c":"g"},{"x":-0.012,"y":0.76,"c":"g"},{"x":-0.007,"y":0.7,"c":"g"},{"x":0.008,"y":0.73,"c":"g"},{"x":0.013,"y":0.77,"c":"g"},{"x":0.018,"y":0.7,"c":"g"},{"x":0.023,"y":0.75,"c":"g"},
  {"x":-0.025,"y":0.84,"c":"g"},{"x":-0.02,"y":0.81,"c":"g"},{"x":-0.015,"y":0.86,"c":"g"},{"x":-0.009,"y":0.8,"c":"g"},{"x":0.009,"y":0.83,"c":"g"},{"x":0.014,"y":0.87,"c":"g"},{"x":0.02,"y":0.8,"c":"g"},{"x":0.025,"y":0.85,"c":"g"},
  {"x":-0.027,"y":0.93,"c":"g"},{"x":-0.022,"y":0.9,"c":"g"},{"x":-0.016,"y":0.96,"c":"g"},{"x":-0.01,"y":0.91,"c":"g"},{"x":0.009,"y":0.94,"c":"g"},{"x":0.015,"y":0.9,"c":"g"},{"x":0.021,"y":0.96,"c":"g"},{"x":0.027,"y":0.92,"c":"g"},
  {"x":-0.029,"y":1.03,"c":"g"},{"x":-0.024,"y":1.0,"c":"g"},{"x":-0.018,"y":1.05,"c":"g"},{"x":-0.012,"y":1.01,"c":"g"},{"x":-0.006,"y":1.04,"c":"g"},{"x":0.006,"y":1.02,"c":"g"},{"x":0.012,"y":1.05,"c":"g"},{"x":0.018,"y":1.0,"c":"g"},{"x":0.023,"y":1.04,"c":"g"},{"x":0.028,"y":1.01,"c":"g"},
  {"x":-0.031,"y":1.12,"c":"g"},{"x":-0.026,"y":1.15,"c":"g"},{"x":-0.02,"y":1.1,"c":"g"},{"x":-0.014,"y":1.14,"c":"g"},{"x":-0.008,"y":1.11,"c":"g"},{"x":0.007,"y":1.13,"c":"g"},{"x":0.013,"y":1.1,"c":"g"},{"x":0.019,"y":1.15,"c":"g"},{"x":0.025,"y":1.11,"c":"g"},{"x":0.03,"y":1.14,"c":"g"},
  {"x":-0.032,"y":1.22,"c":"g"},{"x":-0.027,"y":1.26,"c":"g"},{"x":-0.022,"y":1.2,"c":"g"},{"x":-0.016,"y":1.25,"c":"g"},{"x":-0.01,"y":1.21,"c":"g"},{"x":-0.004,"y":1.27,"c":"g"},{"x":0.004,"y":1.24,"c":"g"},{"x":0.01,"y":1.2,"c":"g"},{"x":0.015,"y":1.26,"c":"g"},{"x":0.021,"y":1.22,"c":"g"},{"x":0.026,"y":1.27,"c":"g"},{"x":0.032,"y":1.21,"c":"g"},
  {"x":-0.037,"y":0.37,"c":"g"},{"x":-0.018,"y":0.23,"c":"g"},
  {"x":-0.063,"y":2.42,"c":"b"},{"x":-0.040,"y":1.96,"c":"b"},{"x":-0.042,"y":1.83,"c":"b"},{"x":-0.036,"y":1.94,"c":"b"},{"x":-0.034,"y":1.79,"c":"b"},{"x":-0.029,"y":1.79,"c":"b"},{"x":-0.039,"y":1.69,"c":"b"},{"x":-0.035,"y":1.66,"c":"b"},{"x":-0.030,"y":1.63,"c":"b"},{"x":-0.027,"y":1.60,"c":"b"},{"x":-0.015,"y":2.02,"c":"b"},{"x":-0.014,"y":1.58,"c":"b"},{"x":-0.018,"y":1.52,"c":"b"},{"x":-0.023,"y":1.46,"c":"b"},{"x":-0.042,"y":1.44,"c":"b"},{"x":-0.034,"y":1.35,"c":"b"},{"x":-0.029,"y":1.39,"c":"b"},{"x":-0.025,"y":1.38,"c":"b"},{"x":-0.020,"y":1.42,"c":"b"},{"x":-0.016,"y":1.55,"c":"b"},{"x":-0.038,"y":1.74,"c":"b"},{"x":-0.032,"y":1.7,"c":"b"},
  {"x":0.050,"y":3.70,"c":"r"},{"x":0.032,"y":2.89,"c":"r"},{"x":0.018,"y":2.89,"c":"r"},{"x":0.032,"y":2.65,"c":"r"},{"x":0.035,"y":2.51,"c":"r"},{"x":0.041,"y":2.23,"c":"r"},{"x":0.038,"y":2.23,"c":"r"},{"x":0.060,"y":1.71,"c":"r"},{"x":0.043,"y":1.75,"c":"r"},{"x":0.039,"y":2.0,"c":"r"},{"x":0.036,"y":1.98,"c":"r"},{"x":0.033,"y":2.12,"c":"r"},{"x":0.041,"y":2.12,"c":"r"},
  {"x":0.005,"y":1.35,"c":"r"},{"x":0.008,"y":1.45,"c":"r"},{"x":0.010,"y":1.40,"c":"r"},{"x":0.012,"y":1.52,"c":"r"},{"x":0.004,"y":1.5,"c":"r"},{"x":0.007,"y":1.6,"c":"r"},{"x":0.013,"y":1.65,"c":"r"},{"x":0.015,"y":1.38,"c":"r"},{"x":0.017,"y":1.48,"c":"r"},{"x":0.019,"y":1.56,"c":"r"},{"x":0.014,"y":1.75,"c":"r"},{"x":0.011,"y":1.85,"c":"r"},{"x":0.016,"y":1.92,"c":"r"},{"x":0.018,"y":2.05,"c":"r"},{"x":0.020,"y":1.70,"c":"r"},{"x":0.022,"y":1.45,"c":"r"},{"x":0.024,"y":1.60,"c":"r"},{"x":0.021,"y":1.85,"c":"r"},{"x":0.023,"y":2.00,"c":"r"},{"x":0.025,"y":1.35,"c":"r"},{"x":0.027,"y":1.50,"c":"r"},{"x":0.026,"y":1.75,"c":"r"},{"x":0.028,"y":1.9,"c":"r"},{"x":0.030,"y":1.40,"c":"r"},{"x":0.029,"y":1.62,"c":"r"},{"x":0.031,"y":1.80,"c":"r"},{"x":0.033,"y":1.55,"c":"r"},{"x":0.009,"y":1.32,"c":"r"},{"x":0.02,"y":1.34,"c":"r"},{"x":0.006,"y":1.72,"c":"r"},{"x":0.012,"y":2.0,"c":"r"},{"x":0.016,"y":2.15,"c":"r"},{"x":0.019,"y":1.95,"c":"r"},{"x":0.024,"y":1.88,"c":"r"},{"x":0.015,"y":1.58,"c":"r"},{"x":0.026,"y":2.1,"c":"r"},{"x":0.028,"y":1.68,"c":"r"},{"x":0.032,"y":1.45,"c":"r"},{"x":0.018,"y":1.8,"c":"r"},{"x":0.01,"y":1.62,"c":"r"},{"x":0.022,"y":2.18,"c":"r"},{"x":0.013,"y":1.3,"c":"r"},{"x":0.03,"y":2.05,"c":"r"},{"x":0.034,"y":1.68,"c":"r"},{"x":0.007,"y":1.85,"c":"r"},{"x":0.025,"y":1.95,"c":"r"}
 ],
 "lblA": [
  {"x1":-0.065,"y1":3.87,"x2":-0.060,"y2":3.52,"tx":-0.048,"ty":4.01,"t":"ATRLN1"},
  {"x1":0.050,"y1":3.93,"x2":0.049,"y2":3.53,"tx":0.041,"ty":4.05,"t":"RPS20"},
  {"x1":0.022,"y1":3.61,"x2":0.037,"y2":3.50,"tx":0.0008,"ty":3.69,"t":"AKAP5"}
 ],
 "lblD": [
  {"x1":0.051,"y1":3.95,"x2":0.050,"y2":3.75,"tx":0.0435,"ty":4.06,"t":"ZNF140"},
  {"x1":0.022,"y1":3.21,"x2":0.031,"y2":2.95,"tx":0.0115,"ty":3.31,"t":"VPS41"},
  {"x1":-0.065,"y1":2.82,"x2":-0.064,"y2":2.48,"tx":-0.045,"ty":2.91,"t":"KCNIP4"}
 ],
 "bg": [
  {"x":-0.040,"y":-0.010},{"x":-0.041,"y":-0.016},{"x":-0.039,"y":-0.021},
  {"x":-0.035,"y":-0.004},{"x":-0.036,"y":-0.010},{"x":-0.034,"y":-0.016},{"x":-0.035,"y":-0.022},
  {"x":-0.030,"y":0.004},{"x":-0.031,"y":-0.002},{"x":-0.029,"y":-0.008},{"x":-0.030,"y":-0.014},{"x":-0.031,"y":-0.020},{"x":-0.029,"y":-0.026},
  {"x":-0.025,"y":0.008},{"x":-0.024,"y":0.002},{"x":-0.026,"y":-0.004},{"x":-0.025,"y":-0.010},{"x":-0.024,"y":-0.016},{"x":-0.026,"y":-0.022},{"x":-0.025,"y":-0.028},
  {"x":-0.020,"y":0.013},{"x":-0.021,"y":0.007},{"x":-0.019,"y":0.001},{"x":-0.020,"y":-0.005},{"x":-0.021,"y":-0.011},{"x":-0.019,"y":-0.017},{"x":-0.020,"y":-0.023},{"x":-0.021,"y":-0.028},
  {"x":-0.015,"y":0.018},{"x":-0.014,"y":0.012},{"x":-0.016,"y":0.006},{"x":-0.015,"y":0.000},{"x":-0.014,"y":-0.006},{"x":-0.016,"y":-0.012},{"x":-0.015,"y":-0.018},{"x":-0.014,"y":-0.024},
  {"x":-0.010,"y":0.022},{"x":-0.011,"y":0.016},{"x":-0.009,"y":0.010},{"x":-0.010,"y":0.004},{"x":-0.011,"y":-0.002},{"x":-0.009,"y":-0.008},{"x":-0.010,"y":-0.014},{"x":-0.011,"y":-0.020},{"x":-0.009,"y":-0.026},
  {"x":-0.005,"y":0.026},{"x":-0.004,"y":0.020},{"x":-0.006,"y":0.014},{"x":-0.005,"y":0.008},{"x":-0.004,"y":0.002},{"x":-0.006,"y":-0.004},{"x":-0.005,"y":-0.010},{"x":-0.004,"y":-0.016},{"x":-0.006,"y":-0.022},
  {"x":0.000,"y":0.030},{"x":0.001,"y":0.024},{"x":-0.001,"y":0.018},{"x":0.000,"y":0.012},{"x":0.001,"y":0.006},{"x":-0.001,"y":0.000},{"x":0.000,"y":-0.006},{"x":0.001,"y":-0.012},{"x":-0.001,"y":-0.018},{"x":0.000,"y":-0.024},
  {"x":0.005,"y":0.031},{"x":0.004,"y":0.025},{"x":0.006,"y":0.019},{"x":0.005,"y":0.013},{"x":0.004,"y":0.007},{"x":0.006,"y":0.001},{"x":0.005,"y":-0.005},{"x":0.004,"y":-0.011},{"x":0.006,"y":-0.017},{"x":0.005,"y":-0.023},
  {"x":0.010,"y":0.033},{"x":0.011,"y":0.027},{"x":0.009,"y":0.021},{"x":0.010,"y":0.015},{"x":0.011,"y":0.009},{"x":0.009,"y":0.003},{"x":0.010,"y":-0.003},{"x":0.011,"y":-0.009},{"x":0.009,"y":-0.015},{"x":0.010,"y":-0.021},
  {"x":0.015,"y":0.034},{"x":0.014,"y":0.028},{"x":0.016,"y":0.022},{"x":0.015,"y":0.016},{"x":0.014,"y":0.010},{"x":0.016,"y":0.004},{"x":0.015,"y":-0.002},{"x":0.014,"y":-0.008},{"x":0.016,"y":-0.014},{"x":0.015,"y":-0.019},
  {"x":0.020,"y":0.035},{"x":0.021,"y":0.029},{"x":0.019,"y":0.023},{"x":0.020,"y":0.017},{"x":0.021,"y":0.011},{"x":0.019,"y":0.005},{"x":0.020,"y":-0.001},{"x":0.021,"y":-0.007},{"x":0.019,"y":-0.013},{"x":0.020,"y":-0.018},
  {"x":0.025,"y":0.034},{"x":0.024,"y":0.028},{"x":0.026,"y":0.022},{"x":0.025,"y":0.016},{"x":0.024,"y":0.010},{"x":0.026,"y":0.004},{"x":0.025,"y":-0.002},{"x":0.024,"y":-0.008},{"x":0.026,"y":-0.013},
  {"x":0.030,"y":0.033},{"x":0.031,"y":0.027},{"x":0.029,"y":0.021},{"x":0.030,"y":0.015},{"x":0.031,"y":0.009},{"x":0.029,"y":0.003},{"x":0.030,"y":-0.003},{"x":0.031,"y":-0.009},
  {"x":0.035,"y":0.030},{"x":0.034,"y":0.024},{"x":0.036,"y":0.018},{"x":0.035,"y":0.012},{"x":0.034,"y":0.006},{"x":0.036,"y":0.000},
  {"x":0.040,"y":0.022},{"x":0.041,"y":0.016},{"x":0.039,"y":0.010},
  {"x":-0.071,"y":-0.065},{"x":0.035,"y":0.061},{"x":0.056,"y":0.040},{"x":0.021,"y":0.041},{"x":-0.044,"y":-0.042},{"x":-0.047,"y":-0.036},{"x":-0.060,"y":-0.018},{"x":-0.039,"y":-0.040},{"x":-0.034,"y":-0.041},{"x":-0.033,"y":0.009},{"x":-0.028,"y":0.005},{"x":-0.050,"y":-0.014},{"x":-0.035,"y":-0.026},{"x":-0.031,"y":-0.030},{"x":-0.023,"y":-0.033},{"x":-0.017,"y":-0.033},{"x":-0.011,"y":-0.026},{"x":0.040,"y":-0.006},{"x":0.044,"y":0.005},{"x":0.037,"y":0.015},{"x":0.034,"y":0.037},{"x":0.028,"y":0.035},{"x":-0.016,"y":0.008},{"x":-0.006,"y":0.028},{"x":0.004,"y":-0.022},{"x":0.006,"y":-0.029},{"x":0.016,"y":-0.018},{"x":0.026,"y":-0.012}
 ],
 "bl": [{"x":-0.071,"y":-0.031},{"x":0.055,"y":0.0279}],
 "bann": [{"x":-0.0734,"y":0.0685,"t":"R²=0.59"},{"x":-0.0734,"y":0.060,"t":"n sites = 6,999"}],
 "lens": [{"x":0.0373,"y":-0.0555}],
 "venn": [{"x":0.0269,"y":-0.0564,"s":"ACC"},{"x":0.0478,"y":-0.0545,"s":"DLPFC"}],
 "vtxt": [
  {"x":0.0185,"y":-0.0345,"t":"ACC","k":"h"},{"x":0.0561,"y":-0.0345,"t":"DLPFC","k":"h"},
  {"x":0.0155,"y":-0.049,"t":"153","k":"n"},{"x":0.0376,"y":-0.049,"t":"29","k":"n"},{"x":0.0573,"y":-0.049,"t":"165","k":"n"},
  {"x":0.0161,"y":-0.063,"t":"55","k":"m"},{"x":0.0376,"y":-0.063,"t":"44","k":"m"},{"x":0.0573,"y":-0.063,"t":"53","k":"m"}
 ],
 "cg": [
  {"x":-0.045,"y":-0.005},{"x":-0.045,"y":-0.012},
  {"x":-0.040,"y":0.004},{"x":-0.040,"y":-0.002},{"x":-0.040,"y":-0.008},{"x":-0.040,"y":-0.014},{"x":-0.040,"y":-0.019},
  {"x":-0.035,"y":0.010},{"x":-0.035,"y":0.004},{"x":-0.035,"y":-0.002},{"x":-0.035,"y":-0.008},{"x":-0.035,"y":-0.014},{"x":-0.035,"y":-0.020},{"x":-0.035,"y":-0.024},
  {"x":-0.030,"y":0.016},{"x":-0.030,"y":0.010},{"x":-0.030,"y":0.004},{"x":-0.030,"y":-0.002},{"x":-0.030,"y":-0.008},{"x":-0.030,"y":-0.014},{"x":-0.030,"y":-0.020},{"x":-0.030,"y":-0.026},
  {"x":-0.025,"y":0.025},{"x":-0.025,"y":0.019},{"x":-0.025,"y":0.013},{"x":-0.025,"y":0.007},{"x":-0.025,"y":0.001},{"x":-0.025,"y":-0.005},{"x":-0.025,"y":-0.011},{"x":-0.025,"y":-0.017},{"x":-0.025,"y":-0.023},{"x":-0.025,"y":-0.029},
  {"x":-0.020,"y":0.032},{"x":-0.020,"y":0.026},{"x":-0.020,"y":0.020},{"x":-0.020,"y":0.014},{"x":-0.020,"y":0.008},{"x":-0.020,"y":0.002},{"x":-0.020,"y":-0.004},{"x":-0.020,"y":-0.010},{"x":-0.020,"y":-0.016},{"x":-0.020,"y":-0.022},{"x":-0.020,"y":-0.028},
  {"x":-0.015,"y":0.036},{"x":-0.015,"y":0.030},{"x":-0.015,"y":0.024},{"x":-0.015,"y":0.018},{"x":-0.015,"y":0.012},{"x":-0.015,"y":0.006},{"x":-0.015,"y":0.000},{"x":-0.015,"y":-0.006},{"x":-0.015,"y":-0.012},{"x":-0.015,"y":-0.018},{"x":-0.015,"y":-0.024},{"x":-0.015,"y":-0.030},
  {"x":-0.010,"y":0.039},{"x":-0.010,"y":0.033},{"x":-0.010,"y":0.027},{"x":-0.010,"y":0.021},{"x":-0.010,"y":0.015},{"x":-0.010,"y":0.009},{"x":-0.010,"y":0.003},{"x":-0.010,"y":-0.003},{"x":-0.010,"y":-0.009},{"x":-0.010,"y":-0.015},{"x":-0.010,"y":-0.021},{"x":-0.010,"y":-0.027},{"x":-0.010,"y":-0.032},
  {"x":-0.005,"y":0.041},{"x":-0.005,"y":0.035},{"x":-0.005,"y":0.029},{"x":-0.005,"y":0.023},{"x":-0.005,"y":0.017},{"x":-0.005,"y":0.011},{"x":-0.005,"y":0.005},{"x":-0.005,"y":-0.001},{"x":-0.005,"y":-0.007},{"x":-0.005,"y":-0.013},{"x":-0.005,"y":-0.019},{"x":-0.005,"y":-0.025},{"x":-0.005,"y":-0.031},
  {"x":0.000,"y":0.042},{"x":0.000,"y":0.036},{"x":0.000,"y":0.030},{"x":0.000,"y":0.024},{"x":0.000,"y":0.018},{"x":0.000,"y":0.012},{"x":0.000,"y":0.006},{"x":0.000,"y":0.000},{"x":0.000,"y":-0.006},{"x":0.000,"y":-0.012},{"x":0.000,"y":-0.018},{"x":0.000,"y":-0.024},{"x":0.000,"y":-0.030},
  {"x":0.005,"y":0.043},{"x":0.005,"y":0.037},{"x":0.005,"y":0.031},{"x":0.005,"y":0.025},{"x":0.005,"y":0.019},{"x":0.005,"y":0.013},{"x":0.005,"y":0.007},{"x":0.005,"y":0.001},{"x":0.005,"y":-0.005},{"x":0.005,"y":-0.011},{"x":0.005,"y":-0.017},{"x":0.005,"y":-0.023},{"x":0.005,"y":-0.029},
  {"x":0.010,"y":0.043},{"x":0.010,"y":0.037},{"x":0.010,"y":0.031},{"x":0.010,"y":0.025},{"x":0.010,"y":0.019},{"x":0.010,"y":0.013},{"x":0.010,"y":0.007},{"x":0.010,"y":0.001},{"x":0.010,"y":-0.005},{"x":0.010,"y":-0.011},{"x":0.010,"y":-0.017},{"x":0.010,"y":-0.023},{"x":0.010,"y":-0.028},
  {"x":0.015,"y":0.042},{"x":0.015,"y":0.036},{"x":0.015,"y":0.030},{"x":0.015,"y":0.024},{"x":0.015,"y":0.018},{"x":0.015,"y":0.012},{"x":0.015,"y":0.006},{"x":0.015,"y":0.000},{"x":0.015,"y":-0.006},{"x":0.015,"y":-0.012},{"x":0.015,"y":-0.018},{"x":0.015,"y":-0.024},
  {"x":0.020,"y":0.040},{"x":0.020,"y":0.034},{"x":0.020,"y":0.028},{"x":0.020,"y":0.022},{"x":0.020,"y":0.016},{"x":0.020,"y":0.010},{"x":0.020,"y":0.004},{"x":0.020,"y":-0.002},{"x":0.020,"y":-0.008},{"x":0.020,"y":-0.014},{"x":0.020,"y":-0.020},
  {"x":0.025,"y":0.037},{"x":0.025,"y":0.031},{"x":0.025,"y":0.025},{"x":0.025,"y":0.019},{"x":0.025,"y":0.013},{"x":0.025,"y":0.007},{"x":0.025,"y":0.001},{"x":0.025,"y":-0.005},{"x":0.025,"y":-0.011},{"x":0.025,"y":-0.016},
  {"x":0.030,"y":0.033},{"x":0.030,"y":0.027},{"x":0.030,"y":0.021},{"x":0.030,"y":0.015},{"x":0.030,"y":0.009},{"x":0.030,"y":0.003},{"x":0.030,"y":-0.003},{"x":0.030,"y":-0.009},
  {"x":0.035,"y":0.029},{"x":0.035,"y":0.023},{"x":0.035,"y":0.017},{"x":0.035,"y":0.011},{"x":0.035,"y":0.005},{"x":0.035,"y":-0.001},{"x":0.035,"y":-0.006},
  {"x":0.040,"y":0.025},{"x":0.040,"y":0.019},{"x":0.040,"y":0.013},{"x":0.040,"y":0.007},{"x":0.040,"y":0.001},
  {"x":0.045,"y":0.018},{"x":0.045,"y":0.012},{"x":0.045,"y":0.006},
  {"x":0.017,"y":0.054},{"x":-0.008,"y":-0.045},{"x":-0.008,"y":-0.062},{"x":-0.034,"y":0.022},{"x":0.025,"y":-0.04},{"x":-0.02,"y":-0.038},{"x":0.028,"y":0.048},{"x":-0.05,"y":-0.02},{"x":0.05,"y":0.01}
 ],
 "cp": [
  {"x":-0.060,"y":-0.025,"c":"b"},{"x":-0.057,"y":-0.017,"c":"b"},{"x":-0.053,"y":-0.050,"c":"b"},{"x":-0.050,"y":-0.032,"c":"b"},{"x":-0.048,"y":-0.025,"c":"b"},{"x":-0.046,"y":-0.038,"c":"b"},{"x":-0.041,"y":-0.020,"c":"b"},{"x":-0.039,"y":-0.025,"c":"b"},{"x":-0.037,"y":-0.029,"c":"b"},{"x":-0.036,"y":-0.022,"c":"b"},{"x":-0.034,"y":-0.032,"c":"b"},{"x":-0.037,"y":0.003,"c":"b"},{"x":-0.040,"y":-0.002,"c":"b"},{"x":-0.036,"y":-0.012,"c":"b"},{"x":-0.034,"y":-0.005,"c":"b"},{"x":-0.031,"y":-0.026,"c":"b"},{"x":-0.030,"y":-0.003,"c":"b"},{"x":-0.027,"y":-0.020,"c":"b"},{"x":-0.025,"y":-0.008,"c":"b"},{"x":-0.024,"y":0.005,"c":"b"},{"x":-0.022,"y":-0.002,"c":"b"},{"x":-0.020,"y":0.008,"c":"b"},{"x":-0.015,"y":-0.004,"c":"b"},{"x":-0.013,"y":0.0,"c":"b"},{"x":-0.017,"y":0.007,"c":"b"},{"x":-0.039,"y":-0.022,"c":"b"},{"x":-0.043,"y":-0.021,"c":"b"},{"x":-0.033,"y":-0.015,"c":"b"},
  {"x":0.038,"y":0.043,"c":"r"},{"x":0.045,"y":0.039,"c":"r"},{"x":0.051,"y":0.031,"c":"r"},{"x":0.055,"y":0.028,"c":"r"},{"x":0.048,"y":0.028,"c":"r"},{"x":0.033,"y":0.034,"c":"r"},{"x":0.023,"y":0.030,"c":"r"},{"x":0.036,"y":0.027,"c":"r"},{"x":0.031,"y":0.025,"c":"r"},{"x":0.046,"y":0.011,"c":"r"},{"x":0.039,"y":0.002,"c":"r"},{"x":0.021,"y":-0.007,"c":"r"},{"x":0.006,"y":-0.004,"c":"r"},
  {"x":0.027,"y":0.022,"c":"r"},{"x":0.030,"y":0.019,"c":"r"},{"x":0.034,"y":0.021,"c":"r"},{"x":0.040,"y":0.018,"c":"r"},{"x":0.043,"y":0.020,"c":"r"},{"x":0.037,"y":0.014,"c":"r"},{"x":0.028,"y":0.016,"c":"r"},{"x":0.024,"y":0.014,"c":"r"},{"x":0.019,"y":0.012,"c":"r"},{"x":0.015,"y":0.010,"c":"r"},{"x":0.012,"y":0.008,"c":"r"},{"x":0.009,"y":0.006,"c":"r"},{"x":0.011,"y":0.002,"c":"r"},{"x":0.014,"y":0.004,"c":"r"},{"x":0.017,"y":0.007,"c":"r"},{"x":0.020,"y":0.009,"c":"r"},{"x":0.022,"y":0.005,"c":"r"},{"x":0.025,"y":0.010,"c":"r"},{"x":0.026,"y":0.004,"c":"r"},{"x":0.029,"y":0.011,"c":"r"},{"x":0.031,"y":0.007,"c":"r"},{"x":0.033,"y":0.013,"c":"r"},{"x":0.035,"y":0.009,"c":"r"},{"x":0.038,"y":0.006,"c":"r"},{"x":0.041,"y":0.009,"c":"r"},{"x":0.044,"y":0.004,"c":"r"},{"x":0.032,"y":0.002,"c":"r"},{"x":0.028,"y":0.000,"c":"r"},{"x":0.024,"y":-0.001,"c":"r"},{"x":0.018,"y":0.001,"c":"r"},{"x":0.016,"y":-0.003,"c":"r"},{"x":0.013,"y":-0.002,"c":"r"},{"x":0.036,"y":-0.001,"c":"r"},{"x":0.042,"y":-0.003,"c":"r"},{"x":0.030,"y":-0.004,"c":"r"},{"x":0.026,"y":-0.005,"c":"r"},{"x":0.020,"y":0.003,"c":"r"},{"x":0.017,"y":0.015,"c":"r"},{"x":0.022,"y":0.018,"c":"r"},{"x":0.030,"y":0.014,"c":"r"},{"x":0.034,"y":0.017,"c":"r"},{"x":0.039,"y":0.023,"c":"r"},{"x":0.047,"y":0.016,"c":"r"},{"x":0.050,"y":0.020,"c":"r"},{"x":0.053,"y":0.012,"c":"r"},{"x":0.045,"y":0.007,"c":"r"},{"x":0.008,"y":0.001,"c":"r"},{"x":0.010,"y":0.011,"c":"r"},{"x":0.037,"y":0.003,"c":"r"},{"x":0.023,"y":0.024,"c":"r"},{"x":0.029,"y":0.028,"c":"r"},{"x":0.042,"y":0.026,"c":"r"}
 ],
 "cl": [{"x":-0.0594,"y":-0.017},{"x":0.0552,"y":0.0215}],
 "cann": [{"x":-0.063,"y":0.0587,"t":"R²=0.12"},{"x":-0.063,"y":0.0483,"t":"n sites=8345"}],
 "dg": [
  {"x":-0.035,"y":0.002},{"x":-0.035,"y":-0.004},{"x":-0.035,"y":-0.010},{"x":-0.035,"y":-0.016},
  {"x":-0.030,"y":0.008},{"x":-0.030,"y":0.002},{"x":-0.030,"y":-0.004},{"x":-0.030,"y":-0.010},{"x":-0.030,"y":-0.016},{"x":-0.030,"y":-0.022},{"x":-0.030,"y":-0.027},
  {"x":-0.025,"y":0.013},{"x":-0.025,"y":0.007},{"x":-0.025,"y":0.001},{"x":-0.025,"y":-0.005},{"x":-0.025,"y":-0.011},{"x":-0.025,"y":-0.017},{"x":-0.025,"y":-0.023},{"x":-0.025,"y":-0.029},
  {"x":-0.020,"y":0.019},{"x":-0.020,"y":0.013},{"x":-0.020,"y":0.007},{"x":-0.020,"y":0.001},{"x":-0.020,"y":-0.005},{"x":-0.020,"y":-0.011},{"x":-0.020,"y":-0.017},{"x":-0.020,"y":-0.023},{"x":-0.020,"y":-0.029},{"x":-0.020,"y":-0.034},
  {"x":-0.015,"y":0.025},{"x":-0.015,"y":0.019},{"x":-0.015,"y":0.013},{"x":-0.015,"y":0.007},{"x":-0.015,"y":0.001},{"x":-0.015,"y":-0.005},{"x":-0.015,"y":-0.011},{"x":-0.015,"y":-0.017},{"x":-0.015,"y":-0.023},{"x":-0.015,"y":-0.029},
  {"x":-0.010,"y":0.030},{"x":-0.010,"y":0.024},{"x":-0.010,"y":0.018},{"x":-0.010,"y":0.012},{"x":-0.010,"y":0.006},{"x":-0.010,"y":0.000},{"x":-0.010,"y":-0.006},{"x":-0.010,"y":-0.012},{"x":-0.010,"y":-0.018},{"x":-0.010,"y":-0.024},{"x":-0.010,"y":-0.029},
  {"x":-0.005,"y":0.034},{"x":-0.005,"y":0.028},{"x":-0.005,"y":0.022},{"x":-0.005,"y":0.016},{"x":-0.005,"y":0.010},{"x":-0.005,"y":0.004},{"x":-0.005,"y":-0.002},{"x":-0.005,"y":-0.008},{"x":-0.005,"y":-0.014},{"x":-0.005,"y":-0.020},{"x":-0.005,"y":-0.026},
  {"x":0.000,"y":0.036},{"x":0.000,"y":0.030},{"x":0.000,"y":0.024},{"x":0.000,"y":0.018},{"x":0.000,"y":0.012},{"x":0.000,"y":0.006},{"x":0.000,"y":0.000},{"x":0.000,"y":-0.006},{"x":0.000,"y":-0.012},{"x":0.000,"y":-0.018},{"x":0.000,"y":-0.024},
  {"x":0.005,"y":0.037},{"x":0.005,"y":0.031},{"x":0.005,"y":0.025},{"x":0.005,"y":0.019},{"x":0.005,"y":0.013},{"x":0.005,"y":0.007},{"x":0.005,"y":0.001},{"x":0.005,"y":-0.005},{"x":0.005,"y":-0.011},{"x":0.005,"y":-0.017},{"x":0.005,"y":-0.023},
  {"x":0.010,"y":0.038},{"x":0.010,"y":0.032},{"x":0.010,"y":0.026},{"x":0.010,"y":0.020},{"x":0.010,"y":0.014},{"x":0.010,"y":0.008},{"x":0.010,"y":0.002},{"x":0.010,"y":-0.004},{"x":0.010,"y":-0.010},{"x":0.010,"y":-0.016},{"x":0.010,"y":-0.021},
  {"x":0.015,"y":0.036},{"x":0.015,"y":0.030},{"x":0.015,"y":0.024},{"x":0.015,"y":0.018},{"x":0.015,"y":0.012},{"x":0.015,"y":0.006},{"x":0.015,"y":0.000},{"x":0.015,"y":-0.006},{"x":0.015,"y":-0.012},{"x":0.015,"y":-0.018},
  {"x":0.020,"y":0.034},{"x":0.020,"y":0.028},{"x":0.020,"y":0.022},{"x":0.020,"y":0.016},{"x":0.020,"y":0.010},{"x":0.020,"y":0.004},{"x":0.020,"y":-0.002},{"x":0.020,"y":-0.008},{"x":0.020,"y":-0.014},
  {"x":0.025,"y":0.030},{"x":0.025,"y":0.024},{"x":0.025,"y":0.018},{"x":0.025,"y":0.012},{"x":0.025,"y":0.006},{"x":0.025,"y":0.000},{"x":0.025,"y":-0.006},{"x":0.025,"y":-0.012},
  {"x":0.030,"y":0.026},{"x":0.030,"y":0.020},{"x":0.030,"y":0.014},{"x":0.030,"y":0.008},{"x":0.030,"y":0.002},{"x":0.030,"y":-0.004},
  {"x":0.035,"y":0.020},{"x":0.035,"y":0.014},{"x":0.035,"y":0.008},{"x":0.035,"y":0.002},
  {"x":-0.037,"y":0.012},{"x":0.0,"y":0.047},{"x":0.025,"y":0.05},{"x":-0.026,"y":-0.05},{"x":-0.036,"y":-0.019},{"x":0.0,"y":-0.062},{"x":-0.03,"y":-0.04}
 ],
 "dp": [
  {"x":-0.042,"y":-0.023,"c":"b"},{"x":-0.040,"y":-0.019,"c":"b"},{"x":-0.036,"y":-0.025,"c":"b"},{"x":-0.034,"y":-0.013,"c":"b"},{"x":-0.032,"y":-0.007,"c":"b"},{"x":-0.032,"y":-0.009,"c":"b"},{"x":-0.028,"y":-0.013,"c":"b"},{"x":-0.028,"y":-0.019,"c":"b"},{"x":-0.027,"y":0.006,"c":"b"},{"x":-0.023,"y":-0.028,"c":"b"},{"x":-0.020,"y":-0.007,"c":"b"},{"x":-0.018,"y":-0.004,"c":"b"},{"x":-0.017,"y":-0.015,"c":"b"},{"x":-0.015,"y":-0.005,"c":"b"},{"x":-0.014,"y":0.007,"c":"b"},
  {"x":0.049,"y":0.019,"c":"r"},{"x":0.042,"y":-0.004,"c":"r"},{"x":0.035,"y":0.039,"c":"r"},{"x":0.027,"y":0.036,"c":"r"},{"x":0.027,"y":-0.012,"c":"r"},{"x":0.034,"y":0.030,"c":"r"},{"x":0.038,"y":0.027,"c":"r"},{"x":0.040,"y":0.022,"c":"r"},{"x":0.036,"y":0.019,"c":"r"},{"x":0.032,"y":0.024,"c":"r"},{"x":0.030,"y":0.017,"c":"r"},{"x":0.028,"y":0.021,"c":"r"},{"x":0.025,"y":0.019,"c":"r"},{"x":0.023,"y":0.015,"c":"r"},{"x":0.021,"y":0.012,"c":"r"},{"x":0.019,"y":0.016,"c":"r"},{"x":0.017,"y":0.010,"c":"r"},{"x":0.015,"y":0.013,"c":"r"},{"x":0.013,"y":0.008,"c":"r"},{"x":0.011,"y":0.011,"c":"r"},{"x":0.009,"y":0.005,"c":"r"},{"x":0.007,"y":0.008,"c":"r"},{"x":0.005,"y":0.003,"c":"r"},{"x":0.003,"y":0.006,"c":"r"},{"x":0.006,"y":-0.002,"c":"r"},{"x":0.010,"y":0.000,"c":"r"},{"x":0.012,"y":0.003,"c":"r"},{"x":0.014,"y":-0.001,"c":"r"},{"x":0.016,"y":0.004,"c":"r"},{"x":0.018,"y":0.006,"c":"r"},{"x":0.020,"y":0.002,"c":"r"},{"x":0.022,"y":0.007,"c":"r"},{"x":0.024,"y":0.004,"c":"r"},{"x":0.026,"y":0.009,"c":"r"},{"x":0.028,"y":0.006,"c":"r"},{"x":0.030,"y":0.010,"c":"r"},{"x":0.032,"y":0.005,"c":"r"},{"x":0.034,"y":0.012,"c":"r"},{"x":0.036,"y":0.008,"c":"r"},{"x":0.038,"y":0.013,"c":"r"},{"x":0.040,"y":0.006,"c":"r"},{"x":0.033,"y":0.000,"c":"r"},{"x":0.029,"y":-0.003,"c":"r"},{"x":0.025,"y":-0.002,"c":"r"},{"x":0.021,"y":-0.004,"c":"r"},{"x":0.017,"y":-0.005,"c":"r"},{"x":0.013,"y":-0.006,"c":"r"},{"x":0.009,"y":-0.004,"c":"r"},{"x":0.031,"y":-0.007,"c":"r"},{"x":0.035,"y":-0.003,"c":"r"},{"x":0.037,"y":0.002,"c":"r"},{"x":0.043,"y":0.010,"c":"r"},{"x":0.045,"y":0.014,"c":"r"},{"x":0.041,"y":0.016,"c":"r"},{"x":0.024,"y":0.026,"c":"r"},{"x":0.020,"y":0.022,"c":"r"},{"x":0.016,"y":0.020,"c":"r"},{"x":0.029,"y":0.030,"c":"r"},{"x":0.022,"y":0.030,"c":"r"},{"x":0.018,"y":0.025,"c":"r"},{"x":0.026,"y":0.014,"c":"r"},{"x":0.014,"y":0.017,"c":"r"},{"x":0.008,"y":0.013,"c":"r"},{"x":0.011,"y":0.018,"c":"r"},{"x":0.006,"y":0.010,"c":"r"},{"x":0.019,"y":-0.009,"c":"r"},{"x":0.027,"y":-0.010,"c":"r"},{"x":0.039,"y":-0.006,"c":"r"},{"x":0.044,"y":0.001,"c":"r"},{"x":0.031,"y":0.034,"c":"r"}
 ],
 "dl": [{"x":-0.0415,"y":-0.0143},{"x":0.058,"y":0.0248}],
 "dann": [{"x":-0.0431,"y":0.0587,"t":"R²=0.13"},{"x":-0.0431,"y":0.0483,"t":"n sites=6659"}],
 "efreq": [
  {"f":"ACC","cat":"3UTR","v":40,"lab":"40","star":true},{"f":"ACC","cat":"5UTR","v":0.4,"lab":"<1","star":false},{"f":"ACC","cat":"exonic","v":1,"lab":"1","star":false},{"f":"ACC","cat":"intergenic","v":16,"lab":"19","star":false},{"f":"ACC","cat":"intronic","v":28,"lab":"28","star":false},{"f":"ACC","cat":"ncRNA","v":13,"lab":"13","star":false},
  {"f":"DLPFC","cat":"3UTR","v":46,"lab":"46","star":false},{"f":"DLPFC","cat":"5UTR","v":0.7,"lab":"1","star":false},{"f":"DLPFC","cat":"exonic","v":3,"lab":"3","star":false},{"f":"DLPFC","cat":"intergenic","v":13,"lab":"13","star":false},{"f":"DLPFC","cat":"intronic","v":25,"lab":"25","star":false},{"f":"DLPFC","cat":"ncRNA","v":8,"lab":"8","star":false},
  {"f":"HBCC","cat":"3UTR","v":50,"lab":"50","star":true},{"f":"HBCC","cat":"5UTR","v":0.4,"lab":"<1","star":false},{"f":"HBCC","cat":"exonic","v":1,"lab":"1","star":false},{"f":"HBCC","cat":"intergenic","v":21,"lab":"21","star":false},{"f":"HBCC","cat":"intronic","v":18,"lab":"18","star":false},{"f":"HBCC","cat":"ncRNA","v":9,"lab":"9","star":false}
 ],
 "fbars": [
  {"term":"Transmitter-gated|ion channel activity","set":"ACC (CMC)","v":1.79},{"term":"Transmitter-gated|ion channel activity","set":"DLPFC (CMC)","v":2.35},{"term":"Transmitter-gated|ion channel activity","set":"DLPFC (HBCC)","v":2.48},
  {"term":"Ion channel|complex","set":"ACC (CMC)","v":1.79},{"term":"Ion channel|complex","set":"DLPFC (CMC)","v":2.35},{"term":"Ion channel|complex","set":"DLPFC (HBCC)","v":2.48},
  {"term":"Kainate selective|glutamate receptor activity","set":"ACC (CMC)","v":1.79},{"term":"Kainate selective|glutamate receptor activity","set":"DLPFC (CMC)","v":2.35},{"term":"Kainate selective|glutamate receptor activity","set":"DLPFC (HBCC)","v":2.48},
  {"term":"Ionotropic glutamate|receptor activity","set":"ACC (CMC)","v":1.84},{"term":"Ionotropic glutamate|receptor activity","set":"DLPFC (CMC)","v":2.97},{"term":"Ionotropic glutamate|receptor activity","set":"DLPFC (HBCC)","v":3.10},
  {"term":"Glutamate receptor activity","set":"ACC (CMC)","v":1.79},{"term":"Glutamate receptor activity","set":"DLPFC (CMC)","v":2.35},{"term":"Glutamate receptor activity","set":"DLPFC (HBCC)","v":2.48},
  {"term":"Postsynaptic density","set":"ACC (CMC)","v":1.84},{"term":"Postsynaptic density","set":"DLPFC (CMC)","v":2.35},{"term":"Postsynaptic density","set":"DLPFC (HBCC)","v":2.48}
 ],
 "gbars": [
  {"term":"Translation","set":"ACC (CMC)","v":1.16},{"term":"Translation","set":"DLPFC (CMC)","v":1.16},{"term":"Translation","set":"DLPFC (HBCC)","v":1.81},
  {"term":"Structural consituent|of robosome","set":"ACC (CMC)","v":1.79},{"term":"Structural consituent|of robosome","set":"DLPFC (CMC)","v":1.52},{"term":"Structural consituent|of robosome","set":"DLPFC (HBCC)","v":1.48},
  {"term":"SRP-dependent cotranslational|protein targeting to membrane","set":"ACC (CMC)","v":1.05},{"term":"SRP-dependent cotranslational|protein targeting to membrane","set":"DLPFC (CMC)","v":1.05},{"term":"SRP-dependent cotranslational|protein targeting to membrane","set":"DLPFC (HBCC)","v":1.54},
  {"term":"Ribosome","set":"ACC (CMC)","v":1.99},{"term":"Ribosome","set":"DLPFC (CMC)","v":2.26},{"term":"Ribosome","set":"DLPFC (HBCC)","v":2.12},
  {"term":"Mitochondrial membrane","set":"ACC (CMC)","v":1.99},{"term":"Mitochondrial membrane","set":"DLPFC (CMC)","v":3.68},{"term":"Mitochondrial membrane","set":"DLPFC (HBCC)","v":2.52},
  {"term":"Mitochondrial envelope","set":"ACC (CMC)","v":1.99},{"term":"Mitochondrial envelope","set":"DLPFC (CMC)","v":2.12},{"term":"Mitochondrial envelope","set":"DLPFC (HBCC)","v":2.12}
 ]
}
}
